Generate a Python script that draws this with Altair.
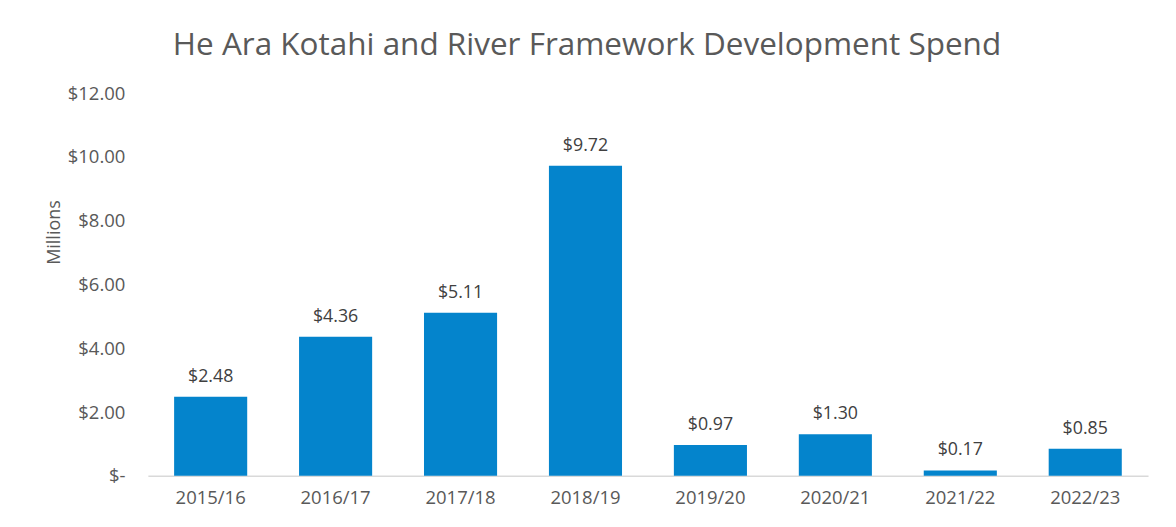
import altair as alt
import pandas as pd

years = ["2015/16", "2016/17", "2017/18", "2018/19", "2019/20", "2020/21", "2021/22", "2022/23"]
spend = [2.48, 4.36, 5.11, 9.72, 0.97, 1.30, 0.17, 0.85]

df = pd.DataFrame({"year": years, "spend": spend})
df["label"] = ["$" + format(v, ".2f") for v in spend]

FONT = "Open Sans"
GREY = "#595959"

x = alt.X("year:N", sort=years, title=None,
          scale=alt.Scale(paddingInner=0.415, paddingOuter=0.21),
          axis=alt.Axis(labelAngle=0, labelFontSize=18.5, labelColor=GREY, labelFont=FONT,
                        ticks=False, domainColor="#d9d9d9", domainWidth=1.5, labelPadding=13))
y = alt.Y("spend:Q", title="Millions",
          scale=alt.Scale(domain=[0, 12], nice=False),
          axis=alt.Axis(values=[0, 2, 4, 6, 8, 10, 12], grid=False, ticks=False, domain=False,
                        labelFontSize=18.5, labelColor=GREY, labelFont=FONT, labelPadding=23,
                        labelExpr="datum.value == 0 ? '$-\u00a0\u00a0' : '$' + format(datum.value, '.2f')",
                        titleFontSize=18, titleFont=FONT, titleColor=GREY, titleFontWeight="normal",
                        titleX=-93, titleY=139, titleAlign="center", titleAngle=-90,
                        titleBaseline="middle"))

bars = alt.Chart(df).mark_bar(color="#0484cc").encode(x=x, y=y)
labels = alt.Chart(df).mark_text(dy=-15, baseline="alphabetic", fontSize=17.8, font=FONT,
                                 color="#404040").encode(
    x=alt.X("year:N", sort=years), y="spend:Q", text="label:N")

chart = (bars + labels).properties(
    width=1001, height=383,
    background="white",
    title=alt.TitleParams("He Ara Kotahi and River Framework Development Spend",
                          fontSize=31.5, font=FONT, color=GREY, fontWeight="normal",
                          anchor="middle", dx=-61, offset=-2, baseline="alphabetic"),
    autosize=alt.AutoSizeParams(type="none"),
    padding={"left": 140, "top": 85, "right": 20, "bottom": 40},
).configure_view(strokeWidth=0, stroke="transparent")

chart.save("out.html", embed_options={"renderer": "svg", "actions": False})
